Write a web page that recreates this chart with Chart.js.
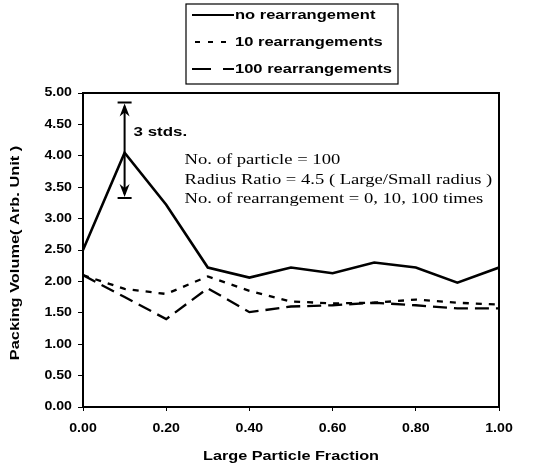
<!DOCTYPE html>
<html>
<head>
<meta charset="utf-8">
<script src="https://cdn.jsdelivr.net/npm/chart.js@4.4.1/dist/chart.umd.min.js"></script>
<style>
  html, body { margin: 0; padding: 0; background: #fff; }
  #wrap { position: relative; width: 538px; height: 465px; }
</style>
</head>
<body>
<div id="wrap"><canvas id="chart" width="538" height="465"></canvas></div>
<script>
const fractions = [0, 0.1, 0.2, 0.3, 0.4, 0.5, 0.6, 0.7, 0.8, 0.9, 1.0];
const noRearr = [2.50, 4.05, 3.22, 2.22, 2.06, 2.22, 2.13, 2.30, 2.22, 1.98, 2.22];
const tenRearr = [2.10, 1.88, 1.80, 2.08, 1.85, 1.68, 1.65, 1.66, 1.71, 1.66, 1.63];
const hundredRearr = [2.10, 1.75, 1.40, 1.89, 1.51, 1.60, 1.62, 1.66, 1.62, 1.57, 1.57];
const seriesNames = ['no rearrangement', '10 rearrangements', '100 rearrangements'];
const xTitle = 'Large Particle Fraction';
const yTitle = 'Packing Volume( Arb. Unit )';
const stdBar = { x: 0.1, low: 3.33, high: 4.85, label: '3 stds.' };
const notes = [
  'No. of particle = 100',
  'Radius Ratio = 4.5 ( Large/Small radius )',
  'No. of rearrangement = 0, 10, 100 times'
];

// the scanned original is stretched sideways, so text is drawn a bit wider
const sans = '"Liberation Sans", Arial, sans-serif';
const plotDash = [[], [6, 7], [14, 7]];
const legendDash = [[], [5, 8], [19, 12]];

function pts(vals) {
  return vals.map((v, i) => ({ x: fractions[i], y: v }));
}

function wideText(ctx, text, x, y, font, sx, align) {
  ctx.save();
  ctx.font = font;
  ctx.translate(x, y);
  ctx.scale(sx, 1);
  ctx.textAlign = align || 'left';
  ctx.textBaseline = 'middle';
  ctx.fillStyle = '#000';
  ctx.fillText(text, 0, 0);
  ctx.restore();
}

const frame = {
  id: 'frame',
  afterDraw(chart) {
    const { ctx, chartArea: a, scales } = chart;
    const xs = scales.x, ys = scales.y;
    ctx.save();
    ctx.strokeStyle = '#000';
    ctx.fillStyle = '#000';
    ctx.lineWidth = 2;
    ctx.strokeRect(a.left, a.top, a.right - a.left, a.bottom - a.top);

    // tick labels and axis titles
    ys.ticks.forEach(t => {
      wideText(ctx, t.value.toFixed(2), 72, ys.getPixelForValue(t.value), 'bold 12px ' + sans, 1.18, 'right');
    });
    xs.ticks.forEach(t => {
      wideText(ctx, t.value.toFixed(2), xs.getPixelForValue(t.value), 429, 'bold 12px ' + sans, 1.18, 'center');
    });
    wideText(ctx, xTitle, (a.left + a.right) / 2, 456, 'bold 13px ' + sans, 1.25, 'center');
    ctx.save();
    ctx.translate(15, (a.top + a.bottom) / 2 + 3);
    ctx.rotate(-Math.PI / 2);
    wideText(ctx, yTitle, 0, 0, 'bold 13px ' + sans, 1.26, 'center');
    ctx.restore();

    // std arrow
    const px = xs.getPixelForValue(stdBar.x);
    const yTop = ys.getPixelForValue(stdBar.high);
    const yBot = ys.getPixelForValue(stdBar.low);
    ctx.beginPath();
    ctx.moveTo(px, yTop + 4); ctx.lineTo(px, yBot - 4);
    ctx.moveTo(px - 7, yTop); ctx.lineTo(px + 7, yTop);
    ctx.moveTo(px - 7, yBot); ctx.lineTo(px + 7, yBot);
    ctx.stroke();
    ctx.beginPath();
    ctx.moveTo(px, yTop + 1); ctx.lineTo(px - 5, yTop + 14); ctx.lineTo(px, yTop + 10); ctx.lineTo(px + 5, yTop + 14);
    ctx.closePath(); ctx.fill();
    ctx.beginPath();
    ctx.moveTo(px, yBot - 1); ctx.lineTo(px - 5, yBot - 14); ctx.lineTo(px, yBot - 10); ctx.lineTo(px + 5, yBot - 14);
    ctx.closePath(); ctx.fill();
    wideText(ctx, stdBar.label, px + 9, 132, 'bold 13px ' + sans, 1.3, 'left');

    // notes
    notes.forEach((t, i) => {
      wideText(ctx, t, px + 60, 160 + i * 19.5, '15.5px "Liberation Serif", "Times New Roman", serif', 1.2, 'left');
    });

    // legend box
    ctx.lineWidth = 1.2;
    ctx.strokeRect(186, 4, 212, 80);
    seriesNames.forEach((name, i) => {
      const y = 15 + i * 27;
      ctx.lineWidth = 2.2;
      ctx.setLineDash(legendDash[i]);
      ctx.beginPath();
      ctx.moveTo(i === 1 ? 195 : 192, y); ctx.lineTo(234, y);
      ctx.stroke();
      ctx.setLineDash([]);
      wideText(ctx, name, 235, y, 'bold 13px ' + sans, 1.27, 'left');
    });
    ctx.restore();
  }
};

new Chart(document.getElementById('chart'), {
  type: 'line',
  data: {
    datasets: [noRearr, tenRearr, hundredRearr].map((vals, i) => ({
      label: seriesNames[i],
      data: pts(vals),
      borderColor: '#000',
      borderWidth: i === 0 ? 2.6 : 2.3,
      borderDash: plotDash[i],
      pointRadius: 0,
      tension: 0,
      fill: false
    }))
  },
  options: {
    responsive: false,
    animation: false,
    layout: { padding: { top: 93, right: 39, left: 0, bottom: 0 } },
    plugins: { legend: { display: false }, tooltip: { enabled: false } },
    scales: {
      x: {
        type: 'linear', min: 0, max: 1,
        ticks: { stepSize: 0.2, display: false },
        grid: { drawOnChartArea: false, tickLength: 4, color: '#000' },
        border: { color: '#000', width: 2 },
        afterFit: s => { s.height = 58; }
      },
      y: {
        min: 0, max: 5,
        ticks: { stepSize: 0.5, display: false },
        grid: { drawOnChartArea: false, tickLength: 5, color: '#000' },
        border: { color: '#000', width: 2 },
        afterFit: s => { s.width = 83; }
      }
    }
  },
  plugins: [frame]
});
</script>
</body>
</html>
